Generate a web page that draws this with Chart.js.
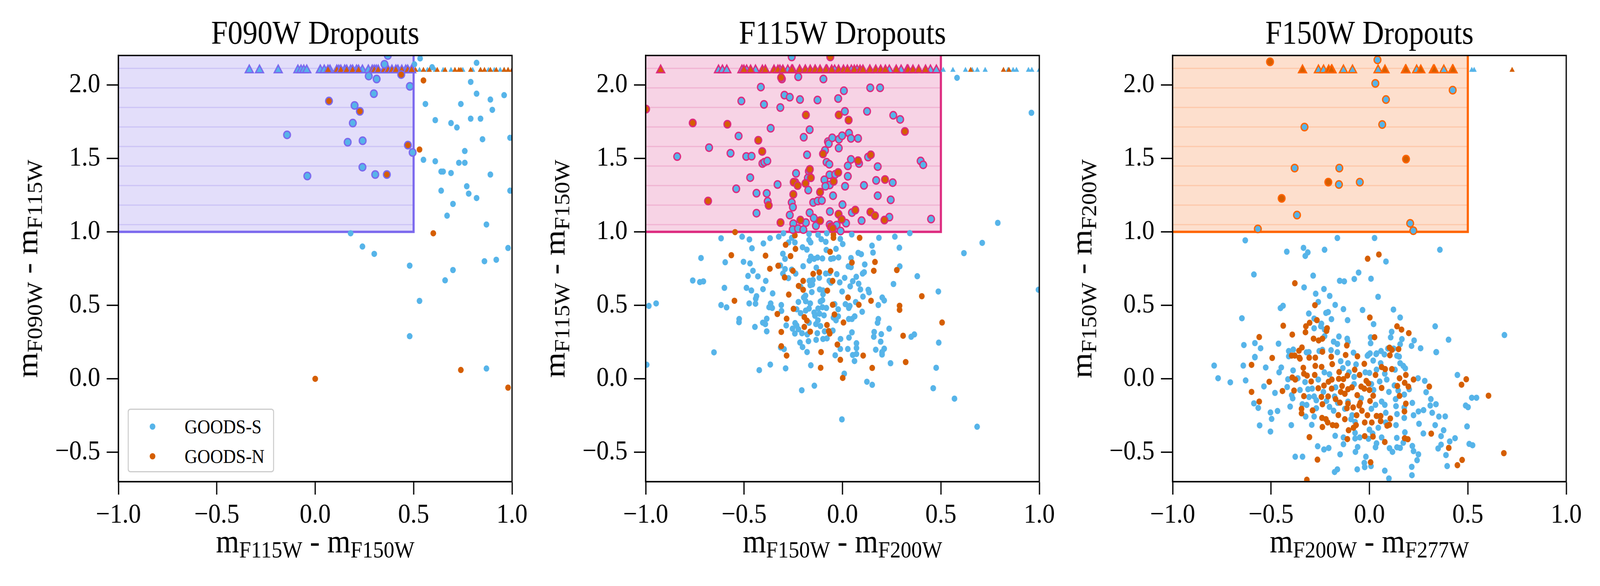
<!DOCTYPE html>
<html>
<head>
<meta charset="utf-8">
<script src="https://cdn.jsdelivr.net/npm/chart.js@4.4.0/dist/chart.umd.min.js"></script>
<style>
  html, body { margin: 0; background: #fff; overflow: hidden; }
  #outer { position: relative; overflow: hidden; width: 4500px; height: 1500px; }
  #wrap { position: absolute; left: 0; top: 0; width: 4500px; height: 1500px; transform-origin: 0 0; }
  .panel { position: absolute; top: 0; width: 1500px; height: 1500px; }
  .panel canvas { position: absolute; left: 0; top: 0; }
  .lab { position: absolute; font-family: "Liberation Serif", serif; font-size: 84px; line-height: 1;
         white-space: nowrap; color: #000; transform: translate(-50%, -50%); }
  .lab .s { font-size: 60px; position: relative; top: 13px; }
  .ylab { transform: translate(-50%, -50%) rotate(-90deg); }
  .legend { position: absolute; box-sizing: border-box; width: 412px; height: 163px; background: #fff;
            border: 3px solid #cccccc; border-radius: 8px; font-family: "Liberation Serif", serif; font-size: 50px; }
  .legend .row { position: absolute; left: 0; height: 60px; line-height: 60px; width: 100%; }
  .legend .dot { position: absolute; left: 59px; top: 22px; width: 16px; height: 16px; border-radius: 50%; }
  .legend .txt { position: absolute; left: 157px; top: 0; }
</style>
</head>
<body>
<div id="outer"><div id="wrap"></div></div>
<script>
// axis ticks
const xTicks = [-1, -0.5, 0, 0.5, 1];
const yTicks = [-0.5, 0, 0.5, 1, 1.5, 2];
// selection box (colour cut) and upper-limit row
const boxRight = 0.5;
const boxBottom = 1.0;
const limitY = 2.1;

// ---- F090W dropouts ----
const p1Blue = [[-0.04,1.38],[0.18,0.99],[0.24,0.90],[0.30,0.85],[0.48,0.77],[0.48,0.29],[0.53,0.53],[0.504,2.14],[0.533,2.18],
  [0.55,1.49],[0.56,1.87],[0.594,2.12],[0.61,1.48],[0.61,1.76],[0.64,1.28],[0.64,1.41],[0.65,1.41],[0.67,1.11],[0.66,0.67],
  [0.69,1.40],[0.69,1.74],[0.70,0.74],[0.70,1.19],[0.72,1.71],[0.73,1.47],[0.74,1.87],[0.76,1.47],[0.76,1.55],[0.77,1.31],
  [0.78,1.26],[0.79,2.02],[0.79,1.77],[0.82,1.94],[0.82,1.23],[0.82,2.15],[0.84,1.77],[0.85,1.63],[0.86,0.80],[0.87,1.05],
  [0.87,0.07],[0.89,1.39],[0.89,1.90],[0.90,1.83],[0.92,0.81],[0.96,1.93],[0.98,0.89],[0.99,1.28],[0.99,1.64],
  [-0.143,1.66],[0.165,1.61],[0.191,1.74],[0.200,1.86],[0.241,1.62],[0.240,1.44],[0.272,2.06],[0.298,1.94],[0.305,1.39],
  [0.312,2.04],[0.352,2.14],[0.369,2.20],[0.481,1.99],[0.495,1.54]];
const p1Orange = [[0.0,0.0],[0.53,1.56],[0.55,2.03],[0.60,0.99],[0.74,0.06],[0.98,-0.06],
  [0.07,1.89],[0.227,1.82],[0.364,1.39],[0.437,2.07],[0.471,1.59]];
const p1BlueLim = [-0.335,-0.283,-0.188,-0.088,-0.072,-0.058,-0.043,0.026,0.046,0.075,0.12,0.15,0.18,0.21,0.24,0.27,0.31,0.36,
  0.42,0.46,0.53,0.57,0.61,0.65,0.69,0.75,0.80,0.84,0.88,0.91,0.94,0.96,0.98];
const p1OrangeLim = [0.065,0.11,0.13,0.16,0.19,0.22,0.29,0.30,0.32,0.35,0.37,0.39,0.41,0.44,0.47,0.49,0.51,0.55,0.58,0.62,0.66,
  0.71,0.73,0.74,0.79,0.84,0.86,0.89,0.92,0.96,0.98,1.0];

// ---- F115W dropouts ----
const p2Blue = [[-0.258,2.19],[-0.308,2.04],[-0.225,2.055],[-0.097,2.04],[-0.415,1.985],[0.141,1.98],[0.191,1.98],[0.007,1.96],
  [-0.295,1.93],[-0.268,1.916],[-0.514,1.89],[-0.216,1.90],[-0.127,1.897],[-0.022,1.907],[-0.399,1.867],[-0.316,1.846],[0.012,1.82],
  [0.125,1.82],[0.258,1.793],[0.293,1.765],[-0.365,1.705],[-0.167,1.695],[-0.197,1.644],[-0.528,1.652],[-0.678,1.573],[-0.840,1.512],
  [-0.569,1.535],[-0.489,1.513],[-0.462,1.515],[-0.407,1.465],[-0.397,1.474],[-0.382,1.482],[-0.180,1.524],[-0.089,1.554],[-0.074,1.614],
  [-0.070,1.600],[-0.052,1.640],[-0.018,1.630],[-0.002,1.654],[0.033,1.672],[0.043,1.636],[0.079,1.636],[-0.019,1.570],[-0.081,1.474],
  [-0.067,1.460],[0.043,1.493],[0.084,1.465],[0.027,1.449],[0.130,1.509],[0.179,1.444],[0.397,1.482],[0.410,1.456],[-0.171,1.412],
  [-0.236,1.398],[-0.176,1.367],[-0.469,1.369],[-0.330,1.322],[-0.240,1.337],[-0.174,1.284],[-0.066,1.388],[-0.037,1.391],[-0.092,1.354],
  [-0.065,1.319],[-0.087,1.310],[0.027,1.378],[0.013,1.310],[0.109,1.316],[0.171,1.350],[0.255,1.335],[-0.540,1.293],[-0.437,1.263],
  [-0.385,1.262],[-0.380,1.208],[-0.258,1.200],[-0.252,1.168],[-0.149,1.200],[-0.126,1.210],[-0.105,1.213],[-0.048,1.246],[0.000,1.185],
  [0.179,1.246],[0.245,1.218],[-0.437,1.127],[-0.268,1.114],[-0.064,1.138],[0.048,1.131],[0.238,1.100],[0.450,1.087],[-0.167,1.130],
  [-0.146,1.094],[-0.250,1.056],[-0.186,1.063],[-0.135,1.041],[0.018,1.059],[0.097,1.076],[-0.065,1.050],[-0.030,1.046],[-0.253,1.015],
  [-0.226,1.022],[-0.199,1.015],[-0.010,1.006],
  [0.96,1.81],[0.582,2.048],[0.789,1.061],[-0.30,0.99],[-0.17,0.985],[-0.08,0.99],
  [-0.617,0.956],[-0.510,0.967],[-0.473,0.948],[-0.402,0.921],[-0.368,0.957],[-0.324,0.967],[-0.258,0.959],[-0.242,0.928],[-0.274,0.928],
  [-0.170,0.945],[-0.162,0.928],[-0.124,0.98],[-0.108,0.950],[-0.085,0.932],[-0.011,0.952],[0.001,0.917],[0.047,0.982],[0.185,0.959],
  [0.266,0.967],[0.342,0.991],[0.710,0.925],[-0.460,0.888],[-0.203,0.895],[-0.181,0.879],[-0.082,0.877],[-0.033,0.884],[0.150,0.906],
  [0.289,0.892],[0.617,0.855],[-0.303,0.851],[-0.292,0.816],[-0.719,0.822],[-0.596,0.793],[-0.503,0.796],[-0.470,0.785],[-0.161,0.831],
  [-0.144,0.816],[-0.127,0.825],[-0.102,0.819],[-0.168,0.804],[-0.059,0.816],[-0.046,0.820],[-0.020,0.826],[0.043,0.822],[0.080,0.857],
  [0.095,0.848],[0.155,0.859],[0.113,0.778],[-0.200,0.766],[-0.133,0.756],[0.030,0.765],[0.043,0.760],[0.291,0.765],[-0.316,0.771],
  [-0.292,0.747],[-0.258,0.743],[-0.238,0.716],[-0.455,0.735],[-0.480,0.700],[-0.430,0.697],[-0.390,0.666],[-0.303,0.716],[-0.275,0.685],
  [-0.085,0.716],[-0.066,0.720],[-0.029,0.712],[-0.118,0.687],[0.011,0.687],[0.070,0.694],[0.102,0.716],[0.110,0.725],[0.380,0.698],
  [-0.761,0.669],[-0.725,0.658],[-0.707,0.663],[-0.168,0.667],[-0.150,0.672],[-0.164,0.637],[-0.153,0.642],[-0.067,0.667],[-0.059,0.654],
  [-0.014,0.656],[0.052,0.664],[0.082,0.647],[0.039,0.629],[0.259,0.645],[-0.600,0.619],[-0.488,0.619],[-0.463,0.601],[-0.404,0.610],
  [-0.355,0.581],[-0.213,0.627],[-0.156,0.590],[-0.116,0.608],[-0.099,0.601],[-0.002,0.594],[0.091,0.608],[0.131,0.606],[0.135,0.588],
  [0.487,0.594],[-0.437,0.562],[-0.441,0.545],[-0.188,0.566],[-0.197,0.553],[-0.099,0.575],[-0.102,0.535],[0.104,0.559],[0.202,0.553],
  [0.212,0.533],[0.996,0.606],[-0.984,0.496],[-0.947,0.513],[-0.617,0.502],[-0.589,0.486],[-0.474,0.513],[-0.442,0.511],[-0.365,0.513],
  [-0.373,0.487],[-0.357,0.482],[-0.311,0.502],[-0.310,0.462],[-0.224,0.523],[-0.187,0.528],[-0.164,0.513],[-0.112,0.526],[-0.040,0.508],
  [0.015,0.508],[0.037,0.496],[0.032,0.482],[0.067,0.522],[0.182,0.502],[0.100,0.456],[-0.233,0.473],[-0.213,0.447],[-0.187,0.464],
  [-0.170,0.478],[-0.144,0.451],[-0.124,0.478],[-0.102,0.487],[-0.082,0.482],[-0.022,0.473],[-0.140,0.429],[-0.117,0.443],[-0.094,0.432],
  [-0.046,0.416],[-0.022,0.425],[0.032,0.407],[0.048,0.407],[0.062,0.425],[-0.525,0.407],[-0.526,0.385],[-0.385,0.409],[-0.405,0.382],
  [-0.392,0.372],[-0.286,0.363],[-0.241,0.379],[-0.233,0.363],[-0.170,0.381],[-0.135,0.372],[-0.125,0.398],[-0.112,0.359],[-0.033,0.398],
  [0.182,0.407],[0.178,0.381],[-0.445,0.353],[-0.385,0.323],[-0.254,0.341],[-0.242,0.308],[-0.224,0.337],[-0.206,0.310],[-0.179,0.302],
  [-0.128,0.310],[-0.091,0.323],[-0.049,0.328],[0.048,0.316],[0.161,0.319],[0.159,0.286],[0.197,0.304],[0.237,0.341],[0.349,0.286],
  [0.365,0.302],[0.033,0.280],[-0.010,0.271],[-0.099,0.271],[-0.079,0.275],[-0.134,0.265],[-0.173,0.256],[-0.216,0.247],[-0.203,0.216],
  [0.071,0.242],[0.194,0.253],[0.489,0.246],[0.071,0.209],[-0.011,0.203],[0.027,0.203],[0.169,0.198],[0.212,0.205],[-0.297,0.202],
  [-0.314,0.213],[-0.180,0.182],[-0.653,0.180],[-0.037,0.160],[0.052,0.162],[0.071,0.169],[0.201,0.165],[0.201,0.182],[0.061,0.121],
  [0.244,0.106],[-0.995,0.096],[-0.367,0.097],[-0.423,0.059],[-0.289,0.071],[-0.161,0.092],[0.476,0.075],[0.009,0.035],[0.124,-0.020],
  [0.151,-0.041],[-0.143,-0.047],[-0.207,-0.078],[0.461,-0.064],[0.569,-0.135],[-0.003,-0.276],[0.684,-0.326]];
const p2Orange = [[-0.062,2.19],[-0.312,2.05],[-0.998,1.835],[-0.186,1.795],[-0.019,1.795],[0.031,1.76],[0.317,1.683],[-0.761,1.741],
  [-0.585,1.732],[-0.428,1.623],[-0.408,1.547],[-0.099,1.530],[0.079,1.484],[0.144,1.524],[-0.166,1.425],[-0.161,1.368],[-0.248,1.338],
  [-0.228,1.315],[-0.188,1.330],[-0.022,1.404],[-0.045,1.343],[0.216,1.356],[-0.683,1.210],[-0.375,1.180],[-0.250,1.255],[-0.114,1.270],
  [-0.020,1.120],[0.065,1.148],[0.142,1.135],[0.165,1.110],[0.213,1.080],[-0.315,1.063],[-0.214,1.080],[-0.114,1.076],[-0.004,1.085],
  [-0.060,1.035],[-0.050,1.024],
  [-0.546,0.998],[-0.242,0.976],[-0.046,0.980],[-0.046,0.959],[0.087,0.959],[-0.289,0.912],[-0.239,0.884],[-0.063,0.864],[-0.565,0.841],
  [-0.391,0.838],[-0.264,0.835],[0.048,0.791],[0.165,0.795],[-0.327,0.769],[-0.369,0.749],[-0.252,0.735],[-0.060,0.735],[0.159,0.735],
  [0.276,0.740],[-0.149,0.714],[-0.118,0.725],[-0.294,0.690],[-0.200,0.666],[-0.050,0.666],[-0.223,0.632],[-0.200,0.606],[-0.077,0.600],
  [-0.273,0.573],[0.028,0.553],[0.403,0.562],[-0.549,0.531],[0.145,0.531],[-0.050,0.504],[0.083,0.504],[0.290,0.497],[0.290,0.469],
  [-0.249,0.476],[-0.331,0.441],[-0.041,0.438],[-0.284,0.409],[-0.194,0.420],[-0.181,0.396],[0.005,0.383],[0.506,0.383],[-0.079,0.366],
  [-0.194,0.353],[-0.164,0.321],[-0.311,0.319],[-0.070,0.325],[-0.065,0.308],[0.308,0.293],[-0.026,0.233],[-0.311,0.222],[-0.109,0.182],
  [-0.284,0.158],[0.105,0.158],[-0.011,0.129],[0.321,0.114],[-0.111,0.075],[0.151,0.074],[0.001,0.006]];
const p2BlueLim = [-0.630,-0.610,-0.588,-0.511,-0.487,-0.442,-0.318,-0.278,-0.253,-0.218,-0.189,-0.139,-0.079,-0.040,0.045,0.074,
  0.139,0.238,0.298,0.328,0.447,0.477,0.512,0.561,0.625,0.659,0.685,0.725,0.841,0.867,0.884,0.945,0.962,1.0];
const p2OrangeLim = [-0.924,-0.501,-0.467,-0.407,-0.392,-0.348,-0.328,-0.303,-0.258,-0.218,-0.189,-0.164,-0.139,-0.114,-0.084,
  -0.055,-0.020,0.005,0.025,0.060,0.089,0.104,0.139,0.169,0.194,0.218,0.273,0.333,0.358,0.387,0.422,0.651,0.818,0.846];

// ---- F150W dropouts ----
const p3Blue = [[0.041,2.17],[0.030,2.01],[0.084,1.90],[0.065,1.73],[-0.330,1.713],[-0.380,1.434],[-0.153,1.434],[-0.155,1.322],
  [-0.049,1.338],[-0.368,1.114],[-0.567,1.020],[0.207,1.058],[0.223,1.008],[0.423,1.964],
  [-0.631,0.942],[-0.163,0.958],[0.026,0.958],[-0.420,0.865],[-0.335,0.891],[-0.313,0.860],[-0.326,0.836],[-0.228,0.878],[0.358,0.878],
  [0.084,0.798],[-0.587,0.710],[-0.286,0.702],[-0.055,0.723],[-0.151,0.667],[-0.128,0.663],[-0.077,0.679],[0.008,0.681],[-0.332,0.622],
  [-0.231,0.611],[-0.273,0.579],[-0.202,0.564],[0.044,0.558],[-0.260,0.523],[-0.439,0.497],[-0.452,0.481],[-0.174,0.503],[-0.132,0.474],
  [-0.035,0.468],[0.122,0.471],[-0.308,0.444],[-0.221,0.448],[-0.210,0.454],[-0.281,0.410],[-0.193,0.406],[-0.111,0.399],[0.156,0.417],
  [-0.648,0.412],[0.021,0.372],[-0.244,0.375],[-0.247,0.357],[-0.281,0.344],[-0.228,0.335],[0.334,0.357],[0.113,0.320],[0.686,0.298],
  [-0.228,0.290],[-0.155,0.288],[-0.113,0.273],[-0.109,0.251],[-0.182,0.253],[-0.163,0.237],[0.006,0.282],[0.006,0.242],[0.108,0.282],
  [0.165,0.270],[0.227,0.261],[0.156,0.235],[0.214,0.224],[0.260,0.208],[0.402,0.266],[0.339,0.181],[-0.638,0.230],[-0.582,0.243],
  [-0.553,0.208],[-0.462,0.239],[-0.410,0.189],[-0.387,0.199],[-0.320,0.180],[-0.308,0.182],[-0.255,0.189],[-0.239,0.197],[-0.195,0.195],
  [-0.163,0.181],[-0.081,0.178],[-0.010,0.157],[0.003,0.173],[0.034,0.168],[0.059,0.189],[0.076,0.166],[0.094,0.206],[0.123,0.206],
  [0.140,0.157],[-0.582,0.149],[-0.410,0.153],
  [-0.789,0.090],[-0.769,0.004],[-0.707,-0.024],[-0.641,0.090],[-0.629,-0.011],[-0.582,0.146],[-0.527,0.077],[-0.536,-0.052],[-0.459,0.044],
  [-0.448,0.077],[-0.480,-0.096],[-0.587,-0.167],[-0.565,-0.198],[-0.503,-0.229],[-0.497,-0.273],[-0.467,-0.219],[-0.558,-0.317],
  [-0.503,-0.359],[-0.403,-0.189],[-0.397,-0.315],[-0.377,-0.530],[-0.340,-0.530],[-0.418,-0.056],[-0.414,-0.003],[-0.388,0.057],
  [-0.395,-0.111],[-0.390,-0.133],[-0.364,0.004],[-0.353,-0.076],[-0.327,-0.022],[-0.312,-0.071],[-0.291,-0.067],[-0.341,-0.173],
  [-0.324,-0.257],[-0.281,-0.257],[-0.293,-0.313],[-0.307,-0.124],[-0.281,-0.120],[-0.270,-0.146],[-0.319,-0.178],[-0.270,-0.200],
  [-0.263,-0.459],[-0.231,-0.481],[-0.207,-0.471],[-0.260,-0.005],[-0.234,-0.089],[-0.229,0.044],[-0.203,0.031],[-0.218,-0.151],
  [-0.203,-0.191],[-0.182,-0.217],[-0.172,-0.058],[-0.177,-0.120],[-0.161,-0.164],[-0.174,-0.388],[-0.177,-0.634],[-0.163,-0.616],
  [-0.149,-0.514],[-0.132,-0.399],[-0.132,-0.445],[-0.146,0.120],[-0.109,0.106],[-0.135,0.073],[-0.104,0.044],[-0.078,0.013],
  [-0.078,-0.036],[-0.068,0.098],[-0.125,-0.204],[-0.109,-0.155],[-0.094,-0.275],[-0.088,-0.248],[-0.073,-0.293],[-0.073,-0.368],
  [-0.073,-0.406],[-0.060,-0.464],[-0.071,-0.497],[-0.062,-0.616],[-0.049,-0.399],[-0.018,-0.530],[-0.026,-0.572],[-0.024,-0.601],
  [0.008,-0.594],[-0.042,-0.133],[-0.021,0.044],[0.000,0.040],[0.019,0.124],[-0.005,0.164],[0.036,0.173],[0.010,-0.036],[0.021,-0.076],
  [0.010,-0.204],[0.031,-0.177],[0.000,-0.346],[0.016,-0.372],[-0.005,-0.408],[0.036,-0.439],[0.031,-0.466],[0.062,-0.399],[0.052,-0.257],
  [0.045,-0.333],[0.036,0.062],[0.057,0.106],[0.052,-0.018],[0.062,-0.155],[0.078,-0.177],[0.083,-0.231],[0.083,-0.297],[0.078,-0.625],
  [0.099,-0.678],[0.078,0.035],[0.088,-0.005],[0.099,-0.089],[0.102,-0.472],[0.117,-0.497],[0.127,-0.045],[0.130,0.062],[0.133,-0.138],
  [0.135,-0.186],[0.135,-0.315],[0.139,-0.402],[0.140,-0.240],[0.140,-0.466],[0.156,-0.470],[0.146,-0.080],[0.151,0.151],[0.156,0.106],
  [0.172,0.088],[0.182,0.071],[0.172,-0.435],[0.177,-0.107],[0.177,-0.195],[0.177,-0.266],[0.180,-0.364],[0.202,-0.071],[0.218,-0.164],
  [0.224,-0.248],[0.218,-0.457],[0.224,-0.492],[0.249,-0.514],[0.242,-0.554],[0.215,-0.599],[0.216,-0.656],[0.249,-0.222],[0.275,-0.213],
  [0.252,-0.306],[0.247,0.004],[0.281,-0.014],[0.288,-0.091],[0.274,-0.372],[0.312,-0.138],[0.309,-0.182],[0.338,-0.173],[0.319,-0.231],
  [0.353,-0.257],[0.385,-0.256],[0.334,-0.315],[0.340,0.182],[0.377,-0.350],[0.364,-0.390],[0.408,-0.426],[0.364,-0.448],[0.349,-0.474],
  [0.389,-0.519],[0.395,-0.594],[0.435,-0.404],[0.447,0.026],[0.489,-0.182],[0.501,-0.193],[0.496,-0.324],[0.520,-0.129],[0.544,-0.129],
  [0.507,-0.443],[0.524,-0.452]];
const p3Orange = [[-0.505,2.157],[-0.446,1.228],[-0.209,1.338],[0.186,1.495],
  [0.048,0.846],[-0.009,0.817],[-0.379,0.650],[-0.277,0.501],[0.002,0.417],[-0.438,0.361],[-0.304,0.381],[-0.267,0.399],[-0.323,0.357],
  [-0.215,0.344],[-0.218,0.326],[-0.325,0.317],[-0.392,0.301],[-0.560,0.284],[-0.284,0.273],[-0.258,0.261],[-0.239,0.273],[0.026,0.283],
  [0.140,0.357],[0.163,0.335],[0.200,0.311],[-0.115,0.227],[-0.343,0.213],[-0.358,0.191],[-0.239,0.184],[0.102,0.212],[0.114,0.197],
  [0.148,0.202],[-0.121,0.162],[0.104,0.160],[-0.061,0.153],[-0.494,0.142],[-0.395,0.158],[-0.379,0.158],[-0.356,0.144],[-0.306,0.144],
  [-0.275,0.144],[-0.194,0.150],
  [-0.599,0.095],[-0.509,-0.020],[-0.599,-0.089],[-0.560,-0.155],[-0.442,-0.083],[-0.392,0.009],[-0.377,-0.005],[-0.383,-0.080],
  [-0.353,0.137],[-0.336,0.075],[-0.333,0.035],[-0.317,0.022],[-0.296,-0.018],[-0.278,0.026],[-0.275,0.088],[-0.243,0.081],
  [-0.333,-0.118],[-0.345,-0.204],[-0.345,-0.235],[-0.289,-0.215],[-0.260,-0.064],[-0.244,-0.123],[-0.231,-0.046],[-0.239,-0.173],
  [-0.210,-0.120],[-0.192,-0.067],[-0.191,-0.005],[-0.208,-0.020],[-0.189,0.100],[-0.241,-0.266],[-0.221,-0.275],[-0.212,-0.297],
  [-0.239,-0.328],[-0.187,-0.315],[-0.168,-0.318],[-0.172,-0.138],[-0.150,-0.162],[-0.158,-0.247],[-0.154,0.046],[-0.156,0.000],
  [-0.139,-0.049],[-0.146,-0.089],[-0.125,-0.102],[-0.125,-0.275],[-0.112,0.022],[-0.132,-0.002],[-0.109,-0.071],[-0.109,-0.169],
  [-0.114,-0.200],[-0.089,-0.058],[-0.083,-0.195],[-0.075,0.062],[-0.062,-0.111],[-0.052,-0.182],[-0.047,-0.164],[-0.050,0.026],
  [-0.065,-0.248],[-0.042,-0.053],[-0.026,0.102],[-0.038,-0.217],[-0.026,-0.067],[-0.016,-0.014],[-0.005,-0.031],[0.000,-0.076],
  [-0.010,-0.248],[-0.024,-0.297],[-0.068,-0.315],[-0.081,-0.333],[-0.106,-0.350],[-0.112,-0.410],[-0.024,-0.390],[0.019,-0.115],
  [0.003,-0.151],[0.012,-0.297],[0.018,-0.393],[0.031,0.026],[0.036,-0.253],[0.057,-0.253],[0.057,-0.288],[0.062,-0.062],[0.062,0.080],
  [0.080,0.066],[0.078,-0.430],[0.090,-0.319],[0.101,-0.313],[0.106,-0.270],[0.114,0.066],[0.142,-0.049],[0.153,0.004],[0.153,-0.116],
  [0.185,-0.169],[0.178,-0.222],[0.185,0.026],[0.179,-0.027],[0.198,-0.053],[0.224,-0.005],[0.304,-0.053],[0.179,-0.404],[0.195,-0.411],
  [0.314,-0.373],[0.403,-0.470],[0.468,-0.040],[0.492,-0.003],[0.605,-0.115],[0.683,-0.506],[0.471,-0.552],[0.447,-0.588],
  [-0.264,-0.550],[-0.305,-0.397],[0.006,-0.568],[-0.318,-0.687]];
const p3BlueLim = [-0.259,-0.233,-0.190,-0.132,-0.086,0.044,0.183,0.240,0.325,0.378,0.422,0.520,0.532];
const p3OrangeLim = [-0.340,-0.207,-0.193,0.079,0.186,0.261,0.330,0.425,0.725];

const BLUE = '#56B4E9';
const ORANGE = '#D55E00';
const FONT = '"Liberation Serif", serif';

const panels = [
  { title: 'F090W Dropouts', xa: 'F115W', xb: 'F150W', ya: 'F090W', yb: 'F115W', blue: p1Blue, orange: p1Orange,
    blueLim: p1BlueLim, orangeLim: p1OrangeLim, edge: '#7B68EE', fill: '#E3DEFA', hatch: '#CCC3F6', padL: 133, padR: 60, legend: true },
  { title: 'F115W Dropouts', xa: 'F150W', xb: 'F200W', ya: 'F115W', yb: 'F150W', blue: p2Blue, orange: p2Orange,
    blueLim: p2BlueLim, orangeLim: p2OrangeLim, edge: '#DD2A7F', fill: '#F7D3E5', hatch: '#F0B3D2', padL: 116, padR: 77 },
  { title: 'F150W Dropouts', xa: 'F200W', xb: 'F277W', ya: 'F150W', yb: 'F200W', blue: p3Blue, orange: p3Orange,
    blueLim: p3BlueLim, orangeLim: p3OrangeLim, edge: '#FF6400', fill: '#FDDFCD', hatch: '#FDC8AA', padL: 98, padR: 95 }
];

function fmt(v) {
  return (v < 0 ? '\u2212' : '') + Math.abs(v).toFixed(1);
}

// draws the full black frame on top of everything, like the axes spines
const framePlugin = {
  id: 'frame',
  afterDatasetsDraw(chart) {
    const a = chart.chartArea, c = chart.ctx;
    c.save();
    c.strokeStyle = '#000';
    c.lineWidth = 3.5;
    c.strokeRect(a.left, a.top, a.right - a.left, a.bottom - a.top);
    c.restore();
  }
};

function hatchPattern(ctx, base, line) {
  const c = document.createElement('canvas');
  c.width = 10; c.height = 50;
  const g = c.getContext('2d');
  g.fillStyle = base; g.fillRect(0, 0, 10, 50);
  g.fillStyle = line; g.fillRect(0, 23.5, 10, 3);
  return ctx.createPattern(c, 'repeat');
}

function axisScale(ticks, min, max, horizontal) {
  return {
    type: 'linear', min: min, max: max,
    afterBuildTicks: s => { s.ticks = ticks.map(v => ({ value: v })); },
    afterFit: s => { if (horizontal) s.height = 140; else s.width = 200; },
    ticks: { font: { family: FONT, size: 70 }, color: '#000', padding: horizontal ? 12 : 18,
             callback: fmt, autoSkip: false, maxRotation: 0 },
    grid: { drawOnChartArea: false, drawTicks: true, tickLength: 33, tickWidth: 3.5, tickColor: '#000' },
    border: { display: true, color: '#000', width: 3.5 }
  };
}

const outer = document.getElementById('outer');
const wrap = document.getElementById('wrap');
// the figure is laid out at 4500x1500 and stretched onto whatever viewport the browser really has
const vw = window.innerWidth || 4500, vh = window.innerHeight || 1500;
wrap.style.transform = 'scale(' + (vw / 4500) + ',' + (vh / 1500) + ')';
outer.style.width = vw + 'px';
outer.style.height = vh + 'px';

panels.forEach((p, i) => {
  const div = document.createElement('div');
  div.className = 'panel';
  div.style.left = (i * 1500) + 'px';
  const cv = document.createElement('canvas');
  cv.width = 1500; cv.height = 1500;
  div.appendChild(cv);
  wrap.appendChild(div);
  const ctx = cv.getContext('2d');

  const inBox = d => d[0] < boxRight && d[1] >= boxBottom;
  const pt = d => ({ x: d[0], y: d[1] });
  const lim = x => ({ x: x, y: limitY });

  const datasets = [
    { type: 'line', data: [{ x: -1, y: boxBottom }, { x: boxRight, y: boxBottom }, { x: boxRight, y: 2.2 }],
      borderColor: p.edge, borderWidth: 6, backgroundColor: hatchPattern(ctx, p.fill, p.hatch), fill: 'end',
      pointRadius: 0, showLine: true, tension: 0, borderJoinStyle: 'miter', order: 100 },
    { label: 'GOODS-S', data: p.blue.filter(d => !inBox(d)).map(pt), backgroundColor: BLUE, borderWidth: 0, pointRadius: 8, order: 90 },
    { label: 'GOODS-N', data: p.orange.filter(d => !inBox(d)).map(pt), backgroundColor: ORANGE, borderWidth: 0, pointRadius: 8, order: 80 },
    { data: p.blueLim.filter(x => x >= boxRight).map(lim), pointStyle: 'triangle', backgroundColor: BLUE, borderWidth: 0, pointRadius: 8.5, order: 70 },
    { data: p.orangeLim.filter(x => x >= boxRight).map(lim), pointStyle: 'triangle', backgroundColor: ORANGE, borderWidth: 0, pointRadius: 8.5, order: 60 },
    { data: p.blueLim.filter(x => x < boxRight).map(lim), pointStyle: 'triangle', backgroundColor: BLUE, borderColor: p.edge, borderWidth: 3.5, pointRadius: 13, order: 50 },
    { data: p.orangeLim.filter(x => x < boxRight).map(lim), pointStyle: 'triangle', backgroundColor: ORANGE, borderColor: p.edge, borderWidth: 3.5, pointRadius: 13, order: 40 },
    { data: p.blue.filter(inBox).map(pt), backgroundColor: BLUE, borderColor: p.edge, borderWidth: 3.5, pointRadius: 9.5, order: 30 },
    { data: p.orange.filter(inBox).map(pt), backgroundColor: ORANGE, borderColor: p.edge, borderWidth: 3.5, pointRadius: 9.5, order: 20 }
  ];

  const chart = new Chart(ctx, {
    type: 'scatter',
    data: { datasets: datasets },
    options: {
      responsive: false,
      animation: false,
      devicePixelRatio: 1,
      events: [],
      layout: { padding: { left: p.padL, right: p.padR, top: 40, bottom: 127 } },
      plugins: {
        legend: { display: false },
        tooltip: { enabled: false },
        title: { display: true, text: p.title, fullSize: false, color: '#000',
                 font: { family: FONT, size: 84, weight: 'normal', lineHeight: 1.2 }, padding: { top: 0, bottom: 1.2 } }
      },
      scales: {
        x: axisScale(xTicks, -1, 1, true),
        y: axisScale(yTicks, -0.7, 2.2, false)
      }
    },
    plugins: [framePlugin]
  });

  const a = chart.chartArea;
  const xl = document.createElement('div');
  xl.className = 'lab';
  xl.innerHTML = 'm<span class="s">' + p.xa + '</span> - m<span class="s">' + p.xb + '</span>';
  xl.style.left = ((a.left + a.right) / 2) + 'px';
  xl.style.top = (a.bottom + 153) + 'px';
  div.appendChild(xl);

  const yl = document.createElement('div');
  yl.className = 'lab ylab';
  yl.innerHTML = 'm<span class="s">' + p.ya + '</span> - m<span class="s">' + p.yb + '</span>';
  yl.style.left = (a.left - 256) + 'px';
  yl.style.top = ((a.top + a.bottom) / 2) + 'px';
  div.appendChild(yl);

  if (p.legend) {
    const lg = document.createElement('div');
    lg.className = 'legend';
    lg.style.left = (a.left + 26) + 'px';
    lg.style.top = (a.bottom - 24 - 163) + 'px';
    [['GOODS-S', BLUE, 13], ['GOODS-N', ORANGE, 89]].forEach(r => {
      const row = document.createElement('div');
      row.className = 'row';
      row.style.top = r[2] + 'px';
      row.innerHTML = '<span class="dot" style="background:' + r[1] + '"></span><span class="txt">' + r[0] + '</span>';
      lg.appendChild(row);
    });
    div.appendChild(lg);
  }
});
</script>
</body>
</html>
